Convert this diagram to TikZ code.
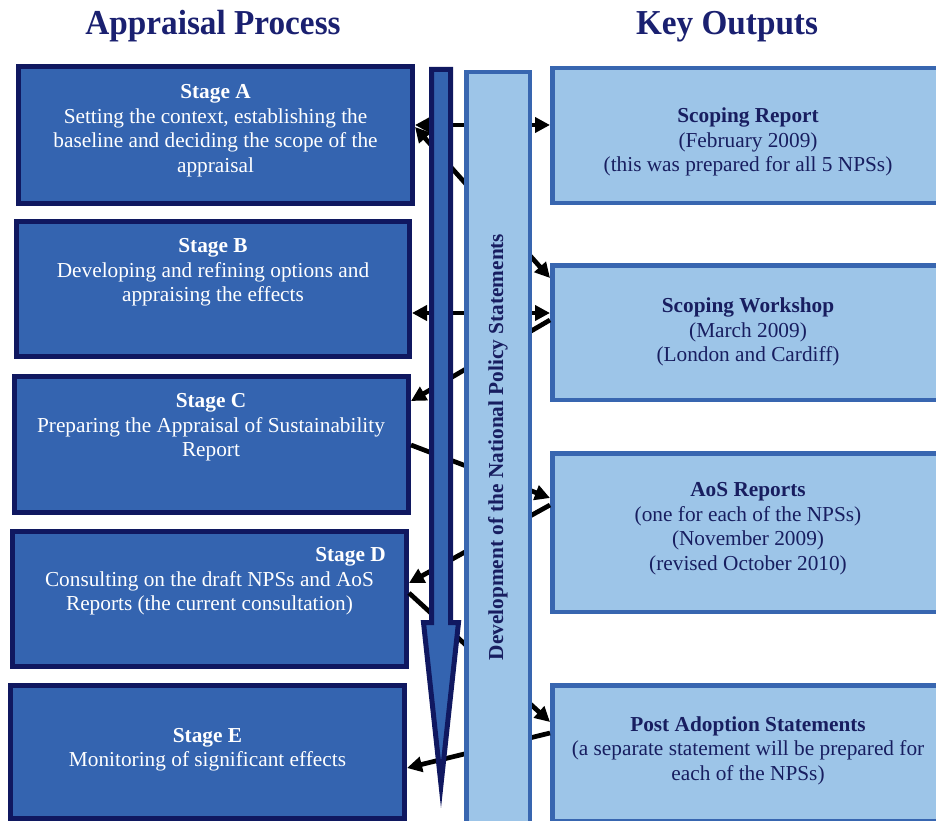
\documentclass[tikz,border=0pt]{standalone}
\usepackage{fontspec}
\usepackage{graphicx}
\setmainfont{Liberation Serif}
\usetikzlibrary{arrows.meta}
\definecolor{navyb}{HTML}{101860}
\definecolor{darkf}{HTML}{3464B0}
\definecolor{lightf}{HTML}{9DC5E8}
\definecolor{midb}{HTML}{3866B0}
\definecolor{navyt}{HTML}{181E60}
\definecolor{navyh}{HTML}{1A2070}
\newcommand\myBody{\fontsize{21.3}{24.5}\selectfont}
\newcommand\myHead{\fontsize{35}{40}\selectfont\bfseries}
\begin{document}
\begin{tikzpicture}[x=1pt,y=-1pt,
  >={Triangle[length=15pt,width=15pt]},
  lbox/.style={draw=navyb, line width=5pt, fill=darkf, inner sep=0pt},
  rbox/.style={draw=midb, line width=4.5pt, fill=lightf, inner sep=0pt},
  ltext/.style={text=white, align=center, font=\myBody, inner sep=0pt},
  rtext/.style={text=navyt, align=center, font=\myBody, inner sep=0pt},
  head/.style={text=navyh, font=\myHead, anchor=base, inner sep=0pt},
  conn/.style={line width=4.7pt, draw=black},
  shaftstyle/.style={draw=navyb, fill=darkf, line width=5pt, miter limit=20},
  colbox/.style={draw=midb, line width=4.5pt, fill=lightf, inner sep=0pt}
]
\useasboundingbox (0,0) rectangle (936,821);
\clip (0,0) rectangle (936,821);

% headings
\node[head] (h1) at (213,35) {\scalebox{0.95}[1]{Appraisal Process}};
\node[head] (h2) at (727,35) {\scalebox{0.95}[1]{Key Outputs}};

% right boxes
\node[rbox, minimum width=391.5pt, minimum height=134.5pt] (SR) at (748,135.5) {};
\node[rbox, minimum width=391.5pt, minimum height=134.5pt] (WS) at (748,332.5) {};
\node[rbox, minimum width=391.5pt, minimum height=158.5pt] (AOS) at (748,532.5) {};
\node[rbox, minimum width=391.5pt, minimum height=135.5pt] (PA) at (748,753) {};

% left boxes
\node[lbox, minimum width=394pt, minimum height=137pt] (A) at (215.5,135) {};
\node[lbox, minimum width=393pt, minimum height=135pt] (B) at (213,289) {};
\node[lbox, minimum width=394pt, minimum height=136pt] (C) at (211.5,444.5) {};
\node[lbox, minimum width=394pt, minimum height=135pt] (D) at (209.5,599) {};
\node[lbox, minimum width=394pt, minimum height=133pt] (E) at (207.5,752) {};

% connectors
\draw[conn,<->] ([yshift=-61pt]A.north east) -- ([yshift=-59pt]SR.north west);
\draw[conn,<->] ([yshift=-63pt]A.north east) -- ([yshift=-15pt]WS.north west);
\draw[conn,<->] ([yshift=-94pt]B.north east) -- ([yshift=-50pt]WS.north west);
\draw[conn,->] ([yshift=-57pt]WS.north west) -- ([yshift=-27pt]C.north east);
\draw[conn,->] ([yshift=-71pt]C.north east) -- ([yshift=-47pt]AOS.north west);
\draw[conn,->] ([yshift=-54pt]AOS.north west) -- ([yshift=-54pt]D.north east);
\draw[conn,->] ([yshift=-64pt]D.north east) -- ([yshift=-39pt]PA.north west);
\draw[conn,->] ([yshift=-50pt]PA.north west) -- ([yshift=-85pt]E.north east);

% big downward arrow
\draw[shaftstyle] (431.5,69.5) -- (450.5,69.5) -- (450.5,622.5) -- (458.5,622.5)
  -- (441,784.6) -- (423.5,622.5) -- (431.5,622.5) -- cycle;

% central column
\node[colbox, minimum width=63.5pt, minimum height=757.75pt] (col) at (498,451) {};
\node[rotate=90, text=navyt, font=\myBody\bfseries, inner sep=0pt] (coltext)
  at ([yshift=4pt]col.center) {Development of the National Policy Statements};

% left texts
\node[ltext] (At) at (215.5,130.5) {\textbf{Stage A}\\Setting the context, establishing the\\baseline and deciding the scope of the\\appraisal};
\node[ltext] (Bt) at (213,272.5) {\textbf{Stage B}\\Developing and refining options and\\appraising the effects};
\node[ltext] (Ct) at (211,427.5) {\textbf{Stage C}\\Preparing the Appraisal of Sustainability\\Report};
\node[ltext] (Dt) at (209.5,581.5) {\hspace*{282pt}\textbf{Stage D}\\Consulting on the draft NPSs and AoS\\Reports (the current consultation)};
\node[ltext] (Et) at (207.5,749.5) {\textbf{Stage E}\\Monitoring of significant effects};

% right texts
\node[rtext] (SRt) at (748,142) {\textbf{Scoping Report}\\(February 2009)\\(this was prepared for all 5 NPSs)};
\node[rtext] (WSt) at (748,332) {\textbf{Scoping Workshop}\\(March 2009)\\(London and Cardiff)};
\node[rtext] (AOSt) at (748,528.5) {\textbf{AoS Reports}\\(one for each of the NPSs)\\(November 2009)\\(revised October 2010)};
\node[rtext] (PAt) at (748,750.5) {\textbf{Post Adoption Statements}\\(a separate statement will be prepared for\\each of the NPSs)};
\end{tikzpicture}
\end{document}
